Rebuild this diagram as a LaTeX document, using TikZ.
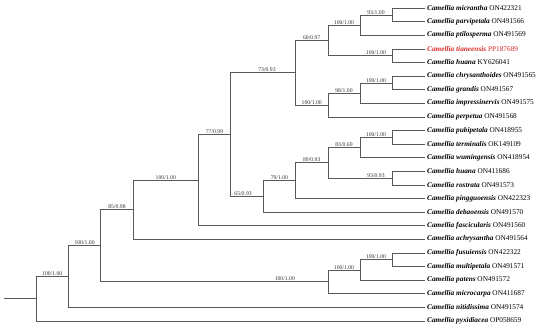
\documentclass[tikz,border=0pt]{standalone}
\usepackage{fontspec}
\setmainfont{Liberation Serif}
\usepackage{tikz}
\usepackage{xcolor}
\definecolor{tia_red}{HTML}{D62A2A}
\usetikzlibrary{positioning,calc}
\tikzset{BRANCH/.style={line width=0.6pt, black!65}}
\tikzset{LEAF/.style={anchor=west, inner sep=2pt, font=\fontsize{7.3}{8}\selectfont}}
\tikzset{SUPPORT/.style={pos=0.75, above=-0.6pt, inner sep=1pt, font=\fontsize{5.7}{6}\selectfont, text=black!80}}

\begin{document}
\begin{tikzpicture}[x=1pt, y=-1pt]

\useasboundingbox (0,0) rectangle (550,330);

% leaves
\node[LEAF] (n_micrantha) at (425,8.0) {\textbf{\textit{Camellia micrantha}} ON422321};
\node[LEAF] (n_parvipetala) at (425,21.6) {\textbf{\textit{Camellia parvipetala}} ON491566};
\node[LEAF] (n_ptilosperma) at (425,35.2) {\textbf{\textit{Camellia ptilosperma}} ON491569};
\node[LEAF, text=tia_red] (n_tianeensis) at (425,48.8) {\textbf{\textit{Camellia tianeensis}} PP187689};
\node[LEAF] (n_huana_ky) at (425,62.4) {\textbf{\textit{Camellia huana}} KY626041};
\node[LEAF] (n_chrysanthoides) at (425,76.0) {\textbf{\textit{Camellia chrysanthoides}} ON491565};
\node[LEAF] (n_grandis) at (425,89.6) {\textbf{\textit{Camellia grandis}} ON491567};
\node[LEAF] (n_impressinervis) at (425,103.2) {\textbf{\textit{Camellia impressinervis}} ON491575};
\node[LEAF] (n_perpetua) at (425,116.8) {\textbf{\textit{Camellia perpetua}} ON491568};
\node[LEAF] (n_pubipetala) at (425,130.4) {\textbf{\textit{Camellia pubipetala}} ON418955};
\node[LEAF] (n_terminalis) at (425,144.0) {\textbf{\textit{Camellia terminalis}} OK149109};
\node[LEAF] (n_wumingensis) at (425,157.6) {\textbf{\textit{Camellia wumingensis}} ON418954};
\node[LEAF] (n_huana_on) at (425,171.2) {\textbf{\textit{Camellia huana}} ON411686};
\node[LEAF] (n_rostrata) at (425,184.8) {\textbf{\textit{Camellia rostrata}} ON491573};
\node[LEAF] (n_pingguoensis) at (425,198.4) {\textbf{\textit{Camellia pingguoensis}} ON422323};
\node[LEAF] (n_debaoensis) at (425,212.0) {\textbf{\textit{Camellia debaoensis}} ON491570};
\node[LEAF] (n_fascicularis) at (425,225.6) {\textbf{\textit{Camellia fascicularis}} ON491560};
\node[LEAF] (n_achrysantha) at (425,239.2) {\textbf{\textit{Camellia achrysantha}} ON491564};
\node[LEAF] (n_fusuiensis) at (425,252.8) {\textbf{\textit{Camellia fusuiensis}} ON422322};
\node[LEAF] (n_multipetala) at (425,266.4) {\textbf{\textit{Camellia multipetala}} ON491571};
\node[LEAF] (n_patens) at (425,280.0) {\textbf{\textit{Camellia patens}} ON491572};
\node[LEAF] (n_microcarpa) at (425,293.6) {\textbf{\textit{Camellia microcarpa}} ON411687};
\node[LEAF] (n_nitidissima) at (425,307.2) {\textbf{\textit{Camellia nitidissima}} ON491574};
\node[LEAF] (n_pyxidiacea) at (425,320.8) {\textbf{\textit{Camellia pyxidiacea}} OP058659};

% internal nodes
\coordinate (c_mic) at (392,14.8);
\coordinate (c_pti) at (360,25.0);
\coordinate (c_tia) at (392,55.6);
\coordinate (c_d) at (328,40.3);
\coordinate (c_chr) at (392,82.8);
\coordinate (c_imp) at (360,93.0);
\coordinate (c_per) at (328,104.9);
\coordinate (c_6) at (295.5,72.6);
\coordinate (c_pub) at (392,137.2);
\coordinate (c_wum) at (360,147.4);
\coordinate (c_ros) at (392,178.0);
\coordinate (c_9) at (328,162.7);
\coordinate (c_pin) at (295.5,180.5);
\coordinate (c_deb) at (263.3,196.3);
\coordinate (c_5) at (230.7,134.4);
\coordinate (c_fas) at (198.3,180.0);
\coordinate (c_ach) at (133.3,209.6);
\coordinate (c_fus) at (392,259.6);
\coordinate (c_pat) at (360,269.8);
\coordinate (c_mcr) at (328,281.7);
\coordinate (c_2) at (100.7,245.6);
\coordinate (c_nit) at (68.5,276.4);
\coordinate (c_0) at (36,298.6);
\coordinate (c_root) at (4,298.6);

% root
\draw[BRANCH] (c_root) -- (c_0);
\draw[BRANCH] (c_0) |- (c_nit) node[SUPPORT]{100/1.00};
\draw[BRANCH] (c_0) |- (n_pyxidiacea);

\draw[BRANCH] (c_nit) |- (c_2) node[SUPPORT]{100/1.00};
\draw[BRANCH] (c_nit) |- (n_nitidissima);

\draw[BRANCH] (c_2) |- (c_ach) node[SUPPORT]{85/0.98};
\draw[BRANCH] (c_2) |- (c_mcr) node[SUPPORT, pos=0.905]{100/1.00};

% microcarpa clade
\draw[BRANCH] (c_mcr) |- (c_pat) node[SUPPORT]{100/1.00};
\draw[BRANCH] (c_mcr) |- (n_microcarpa);
\draw[BRANCH] (c_pat) |- (c_fus) node[SUPPORT]{100/1.00};
\draw[BRANCH] (c_pat) |- (n_patens);
\draw[BRANCH] (c_fus) |- (n_fusuiensis);
\draw[BRANCH] (c_fus) |- (n_multipetala);

\draw[BRANCH] (c_ach) |- (c_fas) node[SUPPORT]{100/1.00};
\draw[BRANCH] (c_ach) |- (n_achrysantha);

\draw[BRANCH] (c_fas) |- (c_5) node[SUPPORT]{77/0.99};
\draw[BRANCH] (c_fas) |- (n_fascicularis);

\draw[BRANCH] (c_5) |- (c_6) node[SUPPORT, pos=0.78]{73/0.93};
\draw[BRANCH] (c_5) |- (c_deb) node[SUPPORT, pos=0.69]{65/0.93};

% upper clade
\draw[BRANCH] (c_6) |- (c_d) node[SUPPORT]{60/0.97};
\draw[BRANCH] (c_6) |- (c_per) node[SUPPORT]{100/1.00};
\draw[BRANCH] (c_d) |- (c_pti) node[SUPPORT]{100/1.00};
\draw[BRANCH] (c_d) |- (c_tia) node[SUPPORT, pos=0.875]{100/1.00};
\draw[BRANCH] (c_pti) |- (c_mic) node[SUPPORT]{93/1.00};
\draw[BRANCH] (c_pti) |- (n_ptilosperma);
\draw[BRANCH] (c_mic) |- (n_micrantha);
\draw[BRANCH] (c_mic) |- (n_parvipetala);
\draw[BRANCH] (c_tia) |- (n_tianeensis);
\draw[BRANCH] (c_tia) |- (n_huana_ky);
\draw[BRANCH] (c_per) |- (c_imp) node[SUPPORT]{98/1.00};
\draw[BRANCH] (c_per) |- (n_perpetua);
\draw[BRANCH] (c_imp) |- (c_chr) node[SUPPORT]{100/1.00};
\draw[BRANCH] (c_imp) |- (n_impressinervis);
\draw[BRANCH] (c_chr) |- (n_chrysanthoides);
\draw[BRANCH] (c_chr) |- (n_grandis);

% lower clade
\draw[BRANCH] (c_deb) |- (c_pin) node[SUPPORT]{79/1.00};
\draw[BRANCH] (c_deb) |- (n_debaoensis);
\draw[BRANCH] (c_pin) |- (c_9) node[SUPPORT]{89/0.93};
\draw[BRANCH] (c_pin) |- (n_pingguoensis);
\draw[BRANCH] (c_9) |- (c_wum) node[SUPPORT]{83/0.69};
\draw[BRANCH] (c_9) |- (c_ros) node[SUPPORT, pos=0.875]{93/0.93};
\draw[BRANCH] (c_wum) |- (c_pub) node[SUPPORT]{100/1.00};
\draw[BRANCH] (c_wum) |- (n_wumingensis);
\draw[BRANCH] (c_pub) |- (n_pubipetala);
\draw[BRANCH] (c_pub) |- (n_terminalis);
\draw[BRANCH] (c_ros) |- (n_huana_on);
\draw[BRANCH] (c_ros) |- (n_rostrata);

\end{tikzpicture}
\end{document}
